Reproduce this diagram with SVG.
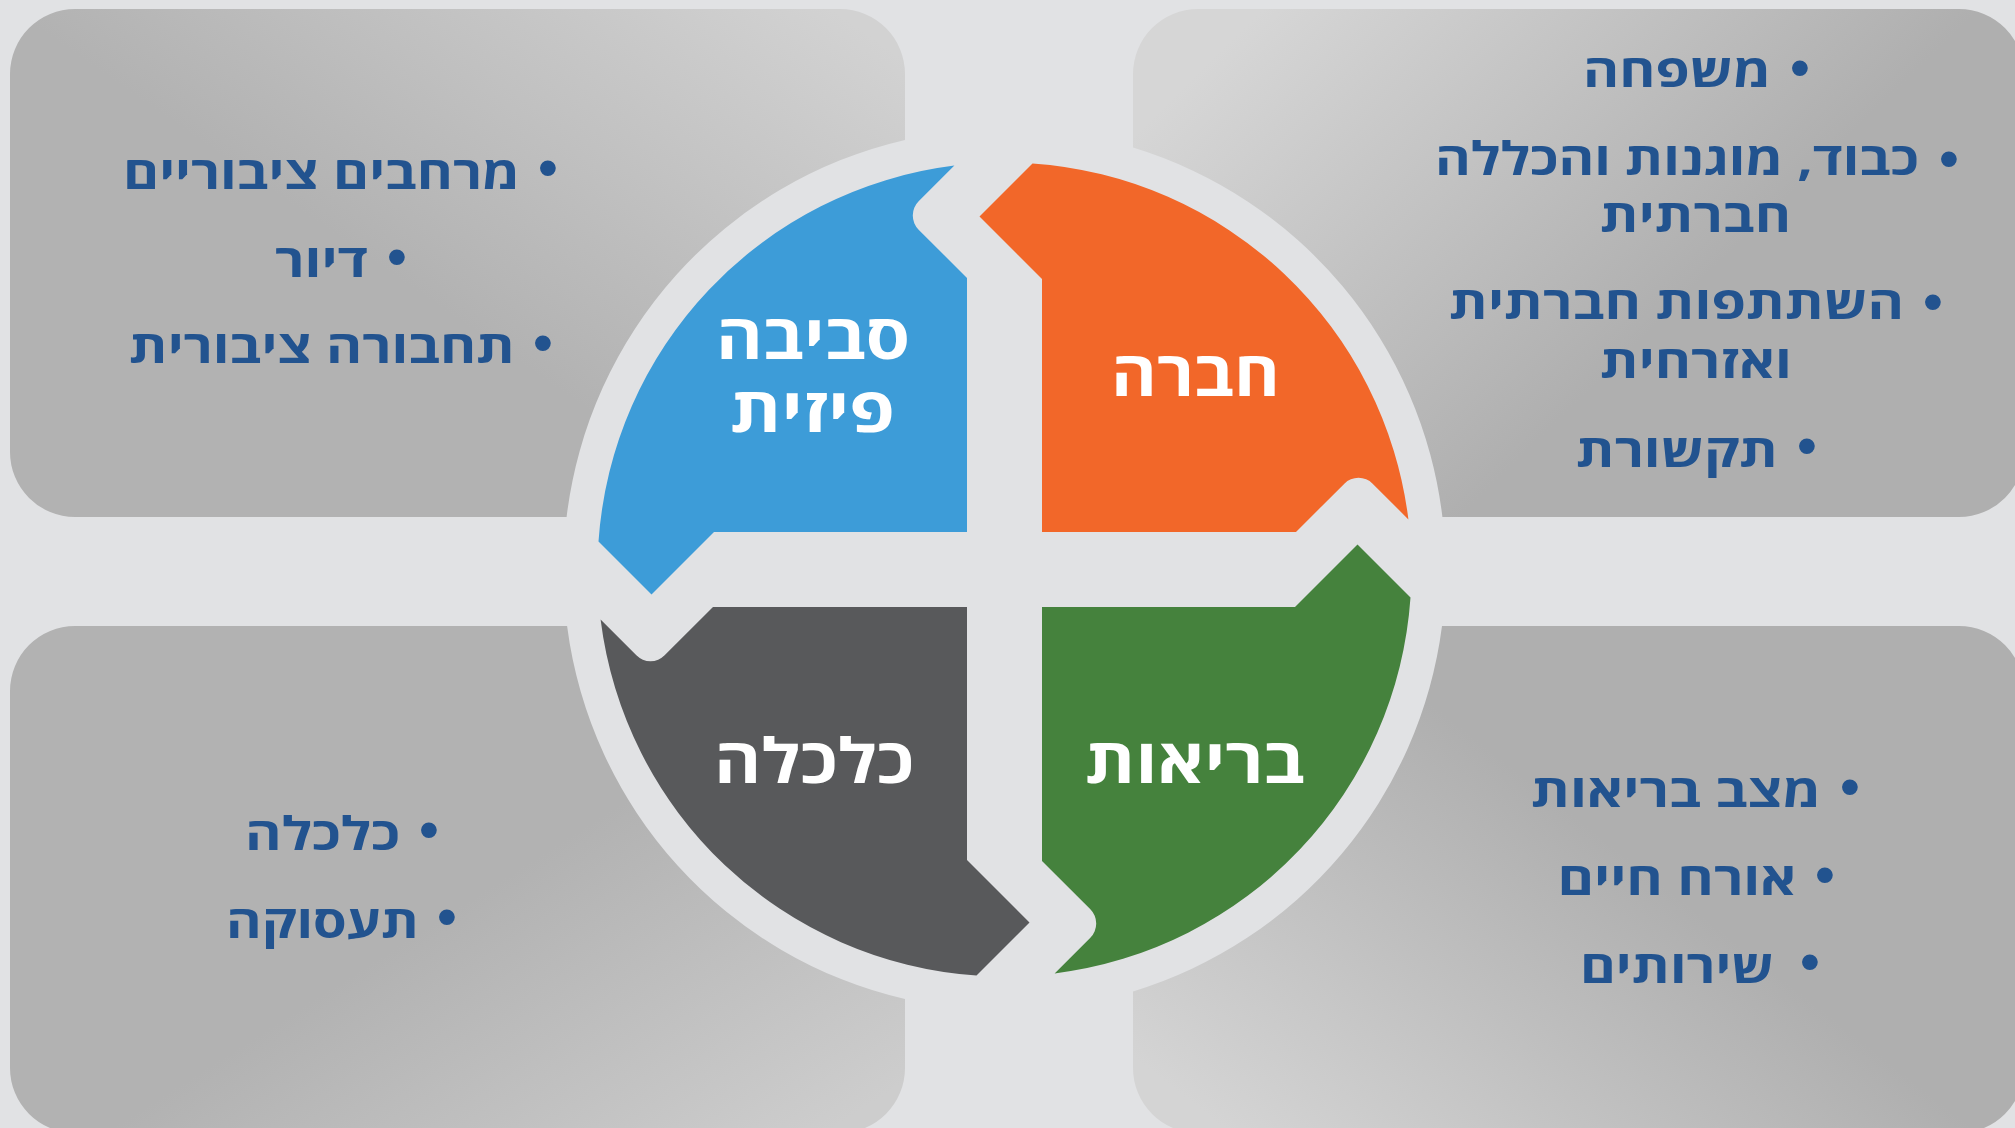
<svg xmlns="http://www.w3.org/2000/svg" xmlns:xlink="http://www.w3.org/1999/xlink" width="2015" height="1128" viewBox="0 0 2015 1128">
<style>
.item{font-family:"Open Sans","Liberation Sans","DejaVu Sans",sans-serif;font-weight:700;font-size:46px;fill:#22538F;text-anchor:middle}
.bul{font-family:"Liberation Sans","DejaVu Sans",sans-serif;font-size:58px;fill:#22538F;text-anchor:middle}
.lbl{font-family:"Open Sans","Liberation Sans","DejaVu Sans",sans-serif;font-weight:700;font-size:62px;fill:#FFFFFF;text-anchor:middle}
</style>
<defs>
<path id="petal" d="M -50.1,-403.9 L -85.86,-368.14 A 20 20 0 0 0 -85.86,-339.86 L -37.5,-291.5 L -37.5,-37.5 L -290.5,-37.5 L -353,25 L -406,-28 A 407 407 0 0 1 -50.1,-403.9 Z"/>
<linearGradient id="gTL" x1="0.45" y1="0.55" x2="1" y2="0.1">
<stop offset="0" stop-color="#B2B2B2"/><stop offset="1" stop-color="#D2D2D2"/>
</linearGradient>
<linearGradient id="gTR" x1="0" y1="0.25" x2="0.6" y2="0.6">
<stop offset="0" stop-color="#D6D6D6"/><stop offset="1" stop-color="#AFAFAF"/>
</linearGradient>
<linearGradient id="gBR" x1="0" y1="0.85" x2="0.55" y2="0.45">
<stop offset="0" stop-color="#D4D4D4"/><stop offset="1" stop-color="#AFAFAF"/>
</linearGradient>
<linearGradient id="gBL" x1="1" y1="0.9" x2="0.55" y2="0.5">
<stop offset="0" stop-color="#CDCDCD"/><stop offset="1" stop-color="#B2B2B2"/>
</linearGradient>
</defs>
<rect x="0" y="0" width="2015" height="1128" fill="#E1E2E4"/>

<g id="panel-physical">
<path d="M 75,9 H 840 A 65 65 0 0 1 905,74 V 139.9 A 441 441 0 0 0 566.6,517 H 75 A 65 65 0 0 1 10,452 V 74 A 65 65 0 0 1 75,9 Z" fill="url(#gTL)"/>
<text class="bul" x="548" y="187">•</text>
<text class="item" x="321.5" y="189" textLength="397" lengthAdjust="spacingAndGlyphs">מרחבים ציבוריים</text>
<text class="bul" x="397" y="276">•</text>
<text class="item" x="321.5" y="277" textLength="93" lengthAdjust="spacingAndGlyphs">דיור</text>
<text class="bul" x="543" y="362">•</text>
<text class="item" x="322" y="363" textLength="386" lengthAdjust="spacingAndGlyphs">תחבורה ציבורית</text>
</g>

<g id="panel-society">
<path d="M 1198,9 H 1959 A 65 65 0 0 1 2024,74 V 452 A 65 65 0 0 1 1959,517 H 1442.4 A 441 441 0 0 0 1133,147.6 V 74 A 65 65 0 0 1 1198,9 Z" fill="url(#gTR)"/>
<text class="bul" x="1800" y="87">•</text>
<text class="item" x="1677" y="87" textLength="188" lengthAdjust="spacingAndGlyphs">משפחה</text>
<text class="bul" x="1949" y="178">•</text>
<text class="item" x="1677" y="175" textLength="484" lengthAdjust="spacingAndGlyphs">כבוד, מוגנות והכללה</text>
<text class="item" x="1695.5" y="232" textLength="191" lengthAdjust="spacingAndGlyphs">חברתית</text>
<text class="bul" x="1933" y="321">•</text>
<text class="item" x="1676.5" y="319" textLength="455" lengthAdjust="spacingAndGlyphs">השתתפות חברתית</text>
<text class="item" x="1696" y="378" textLength="192" lengthAdjust="spacingAndGlyphs">ואזרחית</text>
<text class="bul" x="1807" y="465">•</text>
<text class="item" x="1677" y="467" textLength="202" lengthAdjust="spacingAndGlyphs">תקשורת</text>
</g>

<g id="panel-economy">
<path d="M 75,626 H 567.1 A 441 441 0 0 0 905,999.1 V 1068 A 65 65 0 0 1 840,1133 H 75 A 65 65 0 0 1 10,1068 V 691 A 65 65 0 0 1 75,626 Z" fill="url(#gBL)"/>
<text class="bul" x="429" y="849">•</text>
<text class="item" x="322.5" y="850" textLength="155" lengthAdjust="spacingAndGlyphs">כלכלה</text>
<text class="bul" x="447" y="936">•</text>
<text class="item" x="322.5" y="938" textLength="193" lengthAdjust="spacingAndGlyphs">תעסוקה</text>
</g>

<g id="panel-health">
<path d="M 1442,626 H 1959 A 65 65 0 0 1 2024,691 V 1068 A 65 65 0 0 1 1959,1133 H 1198 A 65 65 0 0 1 1133,1068 V 991.4 A 441 441 0 0 0 1442,626 Z" fill="url(#gBR)"/>
<text class="bul" x="1850" y="806">•</text>
<text class="item" x="1676" y="807" textLength="290" lengthAdjust="spacingAndGlyphs">מצב בריאות</text>
<text class="bul" x="1825" y="894">•</text>
<text class="item" x="1677" y="895" textLength="239" lengthAdjust="spacingAndGlyphs">אורח חיים</text>
<text class="bul" x="1810" y="981">•</text>
<text class="item" x="1677" y="983" textLength="194" lengthAdjust="spacingAndGlyphs">שירותים</text>
</g>

<g id="node-physical">
<use xlink:href="#petal" href="#petal" transform="translate(1004.5,569.5)" fill="#3D9CD8"/>
<text class="lbl" x="813" y="359" textLength="194" lengthAdjust="spacingAndGlyphs">סביבה</text>
<text class="lbl" x="812.5" y="432" textLength="165" lengthAdjust="spacingAndGlyphs">פיזית</text>
</g>
<g id="node-society">
<use xlink:href="#petal" href="#petal" transform="translate(1004.5,569.5) rotate(90)" fill="#F26729"/>
<text class="lbl" x="1195.5" y="396" textLength="169" lengthAdjust="spacingAndGlyphs">חברה</text>
</g>
<g id="node-health">
<use xlink:href="#petal" href="#petal" transform="translate(1004.5,569.5) rotate(180)" fill="#45823D"/>
<text class="lbl" x="1195" y="783" textLength="220" lengthAdjust="spacingAndGlyphs">בריאות</text>
</g>
<g id="node-economy">
<use xlink:href="#petal" href="#petal" transform="translate(1004.5,569.5) rotate(270)" fill="#58595B"/>
<text class="lbl" x="814" y="783" textLength="200" lengthAdjust="spacingAndGlyphs">כלכלה</text>
</g>
<g id="connectors"/>
</svg>
